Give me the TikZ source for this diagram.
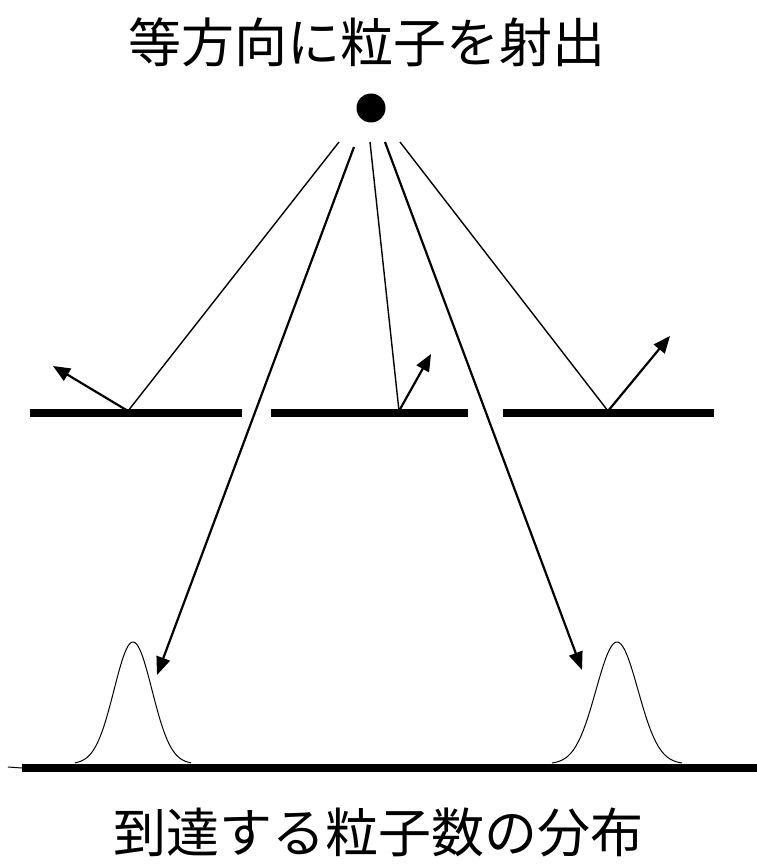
\documentclass[tikz,border=0pt]{standalone}
\usepackage{fontspec}
\newfontfamily\jpfont{Noto Sans CJK JP}
\usetikzlibrary{arrows.meta}
\begin{document}
\begin{tikzpicture}[x=1pt,y=-1pt,
  plate/.style={line width=7.5pt},
  ray/.style={line width=1.4pt},
  rayarrow/.style={line width=2.2pt,-{Triangle[length=18pt,width=14pt]}},
  refl/.style={line width=2.2pt,-{Triangle[length=17pt,width=14pt]}},
  curve/.style={line width=1pt},
  label/.style={font=\jpfont\fontsize{53}{62}\selectfont, inner sep=0pt}]
\useasboundingbox (0,0) rectangle (757,864);
\node[label] (title) at (367,42) {等方向に粒子を射出};
\node[label] (caption) at (378,832) {到達する粒子数の分布};
\node[circle, fill=black, minimum size=29pt, inner sep=0pt] (src) at (371,108) {};
% start points near source
\coordinate (s1) at (339,142);
\coordinate (s2) at (354,147);
\coordinate (s3) at (370,142);
\coordinate (s4) at (385,142);
\coordinate (s5) at (400,142);
% plates
\coordinate (p1a) at (30,413); \coordinate (p1b) at (242,413);
\coordinate (p2a) at (271,413); \coordinate (p2b) at (468,413);
\coordinate (p3a) at (503,413); \coordinate (p3b) at (714,413);
\draw[plate] (p1a) -- (p1b);
\draw[plate] (p2a) -- (p2b);
\draw[plate] (p3a) -- (p3b);
% hit points
\coordinate (h1) at (128,411);
\coordinate (h2) at (399,411);
\coordinate (h3) at (608,411);
\coordinate (r1) at (53,366);
\coordinate (r2) at (431,354);
\coordinate (r3) at (670,336);
\draw[ray] (s1) -- (h1);
\draw[ray] (s3) -- (h2);
\draw[ray] (s5) -- (h3);
\draw[refl] (h1) -- (r1);
\draw[refl] (h2) -- (r2);
\draw[refl] (h3) -- (r3);
% detector
\coordinate (da) at (22,768); \coordinate (db) at (757,768);
\coordinate (ta) at (8,767);
\draw[line width=1pt] (ta) -- (da);
\draw[plate] (da) -- (db);
% peaks
\draw[curve] plot[domain=-58:58, samples=80] ({133+\x},{764-122*exp(-(\x/19)^2/2)});
\draw[curve] plot[domain=-65:65, samples=80] ({617+\x},{764-122*exp(-(\x/21)^2/2)});
% through rays
\coordinate (t1) at (157,675);
\coordinate (t2) at (582,670);
\draw[rayarrow] (s2) -- (t1);
\draw[rayarrow] (s4) -- (t2);
\end{tikzpicture}
\end{document}
